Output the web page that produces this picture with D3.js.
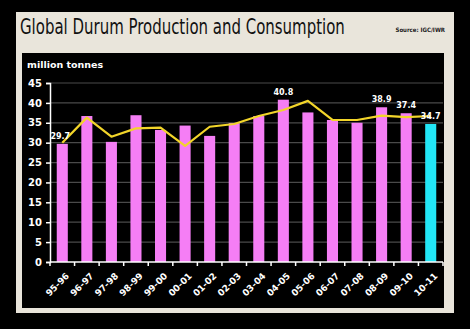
<!DOCTYPE html>
<html><head><meta charset="utf-8">
<script src="https://cdn.jsdelivr.net/npm/d3@7"></script>
<style>html,body{margin:0;padding:0;background:#000;}svg{display:block;}</style>
</head><body>
<script>
const categories = ["95-96","96-97","97-98","98-99","99-00","00-01","01-02","02-03","03-04","04-05","05-06","06-07","07-08","08-09","09-10","10-11"];
const production = [29.7,36.7,30.2,36.9,33.2,34.3,31.7,34.9,36.7,40.8,37.6,35.7,35.0,38.9,37.4,34.7];
const consumption = [30.0,36.3,31.5,33.6,33.8,29.2,34.0,34.7,36.7,38.2,40.5,35.7,35.7,36.8,36.4,36.7];
const labelled = {"95-96":"29.7","04-05":"40.8","08-09":"38.9","09-10":"37.4","10-11":"34.7"};
const yTicks = [0,5,10,15,20,25,30,35,40,45];

const W = 470, H = 329;
const svg = d3.select("body").append("svg").attr("width", W).attr("height", H);
svg.append("rect").attr("width", W).attr("height", H).attr("fill", "#000");
// beige panel
svg.append("rect").attr("x", 16).attr("y", 12).attr("width", 438).attr("height", 301).attr("fill", "#e9e5db");
// inner black panel
svg.append("rect").attr("x", 22).attr("y", 53).attr("width", 422).attr("height", 255).attr("fill", "#000");

const title = svg.append("text").attr("x", 0).attr("y", 0)
  .attr("font-family", "DejaVu Sans Condensed, DejaVu Sans, sans-serif")
  .attr("font-size", 21).attr("fill", "#111")
  .text("Global Durum Production and Consumption");
const tw = title.node().getComputedTextLength();
title.attr("transform", `translate(20,34) scale(${325 / tw},1)`);

svg.append("text").attr("x", 445).attr("y", 32).attr("text-anchor", "end")
  .attr("font-family", "DejaVu Sans Condensed, sans-serif").attr("font-weight", "bold")
  .attr("font-size", 6).attr("fill", "#222").text("Source: IGC/IWR");

svg.append("text").attr("x", 27).attr("y", 68)
  .attr("font-family", "DejaVu Sans, sans-serif").attr("font-weight", "bold")
  .attr("font-size", 9.5).attr("fill", "#fff").text("million tonnes");

const x = d3.scaleBand().domain(categories).range([50, 443]).paddingInner(0.55).paddingOuter(0.275);
const y = d3.scaleLinear().domain([0, 45]).range([262, 83]);

const g = svg.append("g");
// gridlines
g.selectAll("line.grid").data(yTicks.filter(d => d > 0)).enter().append("line")
  .attr("x1", 50).attr("x2", 443).attr("y1", d => y(d)).attr("y2", d => y(d))
  .attr("stroke", "#4a4a4a").attr("stroke-width", 1.2);

// bars
g.selectAll("rect.bar").data(categories).enter().append("rect")
  .attr("x", d => x(d)).attr("width", x.bandwidth())
  .attr("y", (d, i) => y(production[i])).attr("height", (d, i) => y(0) - y(production[i]))
  .attr("fill", (d, i) => i === categories.length - 1 ? "#22e6f6" : "#f57ef5");

// consumption line
const line = d3.line().x((d, i) => x(categories[i]) + x.bandwidth() / 2).y(d => y(d));
g.append("path").datum(consumption).attr("d", line)
  .attr("fill", "none").attr("stroke", "#f2d52a").attr("stroke-width", 2.2).attr("stroke-linejoin", "round");

// value labels
g.selectAll("text.val").data(categories.filter(c => labelled[c])).enter().append("text")
  .attr("x", d => x(d) + x.bandwidth() / 2 + (d === "95-96" ? -2 : 0))
  .attr("y", d => y(production[categories.indexOf(d)]) - 5)
  .attr("text-anchor", "middle")
  .attr("font-family", "DejaVu Sans, sans-serif").attr("font-weight", "bold")
  .attr("font-size", 8).attr("fill", "#fff").text(d => labelled[d]);

// y axis
const yAxis = d3.axisLeft(y).tickValues(yTicks).tickSize(4).tickPadding(4);
const ya = svg.append("g").attr("transform", "translate(50,0)").call(yAxis);
ya.select(".domain").attr("stroke", "#fff").attr("stroke-width", 1.5);
ya.selectAll(".tick line").attr("stroke", "#fff").attr("stroke-width", 1.5);
ya.selectAll(".tick text").attr("fill", "#fff").attr("font-family", "DejaVu Sans, sans-serif")
  .attr("font-weight", "bold").attr("font-size", 10);

// x axis
const xa = svg.append("g").attr("transform", "translate(0,262)");
xa.append("line").attr("x1", 50).attr("x2", 443).attr("stroke", "#fff").attr("stroke-width", 1.5);
const bounds = categories.map((c, i) => 50 + i * (393 / categories.length)).concat([443]);
xa.selectAll("line.tk").data(bounds).enter().append("line")
  .attr("x1", d => d).attr("x2", d => d).attr("y1", 0).attr("y2", 4)
  .attr("stroke", "#fff").attr("stroke-width", 1.5);
xa.selectAll("text.cat").data(categories).enter().append("text")
  .attr("transform", d => `translate(${x(d) + x.bandwidth() / 2 + 3},${10}) rotate(-45)`)
  .attr("text-anchor", "end").attr("dy", "0.7em")
  .attr("font-family", "DejaVu Sans, sans-serif").attr("font-weight", "bold")
  .attr("font-size", 9).attr("fill", "#fff").text(d => d);
</script>
</body></html>
